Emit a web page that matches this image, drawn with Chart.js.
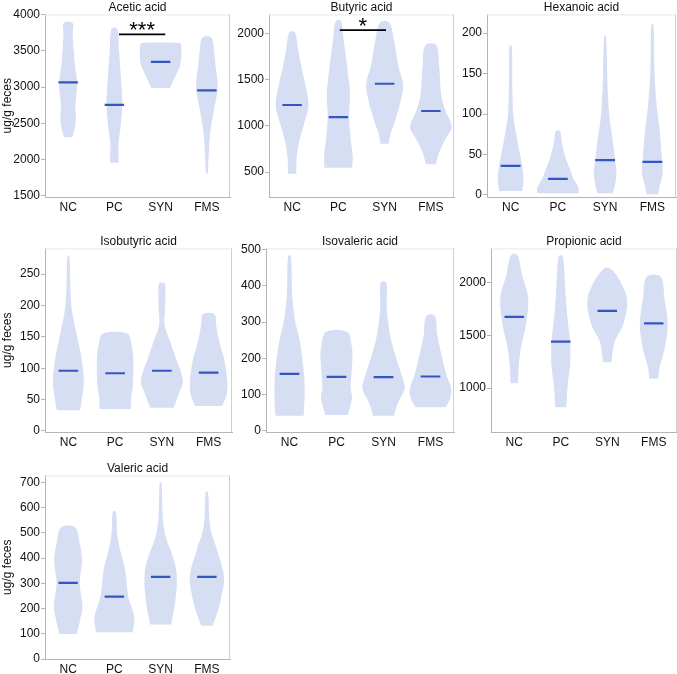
<!DOCTYPE html>
<html>
<head>
<meta charset="utf-8">
<script src="https://cdn.jsdelivr.net/npm/chart.js@4.4.1/dist/chart.umd.min.js"></script>
<style>
  html, body { margin: 0; padding: 0; background: #fff; }
  #wrap { position: relative; width: 677px; height: 674px; overflow: hidden; }
  #wrap canvas { position: absolute; }
</style>
</head>
<body>
<div id="wrap">
  <canvas id="acetic" width="231" height="215" style="left:0;top:0"></canvas>
  <canvas id="butyric" width="225" height="215" style="left:231px;top:0"></canvas>
  <canvas id="hexanoic" width="221" height="215" style="left:456px;top:0"></canvas>
  <canvas id="isobutyric" width="234" height="216" style="left:0;top:234px"></canvas>
  <canvas id="isovaleric" width="222" height="216" style="left:234px;top:234px"></canvas>
  <canvas id="propionic" width="221" height="216" style="left:456px;top:234px"></canvas>
  <canvas id="valeric" width="231" height="213" style="left:0;top:461px"></canvas>
</div>
<script>
const groups = ['NC', 'PC', 'SYN', 'FMS'];

// violin outlines: [value, half width in category units], bottom to top
const aceticNC = [[2310, 0.09], [2452, 0.15], [2590, 0.17], [2727, 0.155], [2910, 0.18], [3070, 0.195], [3277, 0.15], [3505, 0.12], [3734, 0.1], [3881, 0.097]];
const aceticPC = [[1958, 0.095], [2223, 0.09], [2452, 0.135], [2760, 0.17], [3002, 0.155], [3277, 0.125], [3505, 0.1], [3803, 0.06]];
const aceticSYN = [[2988, 0.2], [3139, 0.31], [3322, 0.43], [3528, 0.45], [3580, 0.44], [3606, 0.41]];
const aceticFMS = [[1811, 0.02], [2132, 0.045], [2360, 0.07], [2681, 0.15], [2956, 0.23], [3150, 0.22], [3277, 0.19], [3505, 0.155], [3680, 0.095]];
const aceticMedians = [3065, 2755, 3345, 2955];
const aceticTicks = [1500, 2000, 2500, 3000, 3500, 4000];

const butyricNC = [[482, 0.09], [663, 0.1], [843, 0.16], [1024, 0.26], [1223, 0.355], [1458, 0.28], [1639, 0.2], [1819, 0.13], [2011, 0.06]];
const butyricPC = [[547, 0.3], [663, 0.31], [843, 0.27], [1096, 0.23], [1349, 0.25], [1639, 0.19], [1928, 0.115], [2134, 0.055]];
const butyricSYN = [[807, 0.09], [916, 0.13], [1060, 0.23], [1277, 0.35], [1451, 0.4], [1639, 0.3], [1928, 0.2], [2116, 0.1]];
const butyricFMS = [[583, 0.11], [699, 0.17], [843, 0.3], [988, 0.45], [1158, 0.32], [1313, 0.23], [1639, 0.18], [1873, 0.115]];
const butyricMedians = [1225, 1095, 1455, 1160];
const butyricTicks = [500, 1000, 1500, 2000];

const hexanoicNC = [[5, 0.245], [18.5, 0.27], [36, 0.245], [47, 0.21], [68, 0.14], [97, 0.06], [138, 0.035], [184, 0.025]];
const hexanoicPC = [[2, 0.44], [10, 0.43], [20, 0.33], [31, 0.26], [47, 0.16], [64, 0.085], [79, 0.045]];
const hexanoicSYN = [[2, 0.16], [10, 0.2], [27, 0.24], [43, 0.21], [68, 0.16], [97, 0.09], [138, 0.05], [196, 0.02]];
const hexanoicFMS = [[1, 0.12], [10, 0.15], [27, 0.22], [47, 0.2], [76, 0.16], [118, 0.08], [159, 0.04], [210, 0.025]];
const hexanoicMedians = [36, 20, 43, 41];
const hexanoicTicks = [0, 50, 100, 150, 200];

const isobutyricNC = [[33, 0.25], [52, 0.29], [79, 0.33], [116, 0.28], [153, 0.18], [190, 0.08], [222, 0.045], [279, 0.02]];
const isobutyricPC = [[35, 0.34], [52, 0.34], [73, 0.38], [116, 0.39], [142, 0.34], [155.5, 0.26]];
const isobutyricSYN = [[37, 0.25], [63, 0.38], [81, 0.45], [116, 0.3], [142, 0.18], [169, 0.06], [195, 0.07], [220, 0.075], [235, 0.06]];
const isobutyricFMS = [[40, 0.29], [57, 0.38], [79, 0.4], [116, 0.33], [142, 0.23], [169, 0.16], [186, 0.125]];
const isobutyricMedians = [96, 92, 96, 93];
const isobutyricTicks = [0, 50, 100, 150, 200, 250];

const isovalericNC = [[42, 0.3], [90, 0.32], [154, 0.31], [246, 0.22], [310, 0.11], [383, 0.055], [482, 0.03]];
const isovalericPC = [[44, 0.24], [90, 0.33], [120, 0.3], [200, 0.34], [237, 0.32], [273, 0.22]];
const isovalericSYN = [[42, 0.22], [81, 0.32], [117, 0.45], [148, 0.4], [200, 0.27], [264, 0.14], [338, 0.07], [409, 0.06]];
const isovalericFMS = [[65, 0.32], [90, 0.42], [117, 0.44], [150, 0.35], [200, 0.25], [264, 0.145], [317, 0.09]];
const isovalericMedians = [157, 149, 148, 150];
const isovalericTicks = [0, 100, 200, 300, 400, 500];

const propionicNC = [[1047, 0.08], [1220, 0.1], [1377, 0.14], [1597, 0.25], [1849, 0.3], [2069, 0.17], [2258, 0.065]];
const propionicPC = [[818, 0.12], [1031, 0.15], [1220, 0.2], [1440, 0.2], [1660, 0.145], [1912, 0.1], [2248, 0.045]];
const propionicSYN = [[1245, 0.09], [1440, 0.16], [1597, 0.34], [1818, 0.43], [1975, 0.32], [2126, 0.08]];
const propionicFMS = [[1088, 0.1], [1189, 0.12], [1346, 0.22], [1597, 0.3], [1849, 0.23], [2053, 0.15]];
const propionicMedians = [1673, 1440, 1730, 1613];
const propionicTicks = [1000, 1500, 2000];

const valericNC = [[99, 0.19], [155, 0.26], [207, 0.31], [300, 0.25], [392, 0.3], [458, 0.25], [522, 0.15]];
const valericPC = [[106, 0.4], [168, 0.43], [247, 0.3], [353, 0.235], [432, 0.125], [498, 0.06], [584, 0.035]];
const valericSYN = [[137, 0.23], [234, 0.32], [326, 0.35], [392, 0.29], [485, 0.11], [564, 0.045], [700, 0.02]];
const valericFMS = [[132, 0.125], [180, 0.22], [234, 0.3], [326, 0.37], [432, 0.22], [524, 0.07], [663, 0.025]];
const valericMedians = [302, 247, 326, 326];
const valericTicks = [0, 100, 200, 300, 400, 500, 600, 700];

// significance: [from group, to group, label, bracket value]
const aceticSig = ['PC', 'SYN', '***', 3725];
const butyricSig = ['PC', 'SYN', '*', 2035];

const FONT = "Helvetica, 'Liberation Sans', Arial, sans-serif";
const VIOLIN = 'rgb(213, 222, 242)';
const MEDIAN = 'rgb(52, 86, 192)';
const AXIS = '#b5b5b5';

function violinPoints(profile, i) {
  const right = profile.map(([v, w]) => ({x: i + w, y: v}));
  const left = profile.slice().reverse().map(([v, w]) => ({x: i - w, y: v}));
  return right.concat(left);
}

const framePlugin = {
  id: 'frame',
  beforeDatasetsDraw(chart) {
    const {ctx, chartArea: a} = chart;
    ctx.save();
    ctx.lineWidth = 1;
    ctx.strokeStyle = '#e8e8e8';
    ctx.beginPath();
    ctx.moveTo(a.left, a.top + 0.5);
    ctx.lineTo(a.right, a.top + 0.5);
    ctx.stroke();
    ctx.strokeStyle = '#cfcfcf';
    ctx.beginPath();
    ctx.moveTo(a.right - 0.5, a.top);
    ctx.lineTo(a.right - 0.5, a.bottom);
    ctx.stroke();
    ctx.restore();
  }
};

const starsPlugin = {
  id: 'stars',
  afterDatasetsDraw(chart, args, opts) {
    if (!opts.sig) return;
    const [g1, g2, label, v] = opts.sig;
    const x = chart.scales.x, y = chart.scales.y;
    const mid = (groups.indexOf(g1) + groups.indexOf(g2)) / 2 + opts.shift;
    const ctx = chart.ctx;
    ctx.save();
    ctx.fillStyle = '#000';
    ctx.font = '22px ' + FONT;
    ctx.textAlign = 'center';
    ctx.textBaseline = 'alphabetic';
    ctx.fillText(label, x.getPixelForValue(mid), y.getPixelForValue(v) + 3);
    ctx.restore();
  }
};

function makePanel(id, title, profiles, medians, ticks, min, max, p) {
  const datasets = [];
  profiles.forEach((prof, i) => {
    datasets.push({
      data: violinPoints(prof, i),
      backgroundColor: VIOLIN,
      borderWidth: 0,
      pointRadius: 0,
      fill: 'shape',
      tension: 0.35,
      order: 3
    });
  });
  medians.forEach((m, i) => {
    datasets.push({
      data: [{x: i - 0.21, y: m}, {x: i + 0.21, y: m}],
      borderColor: MEDIAN,
      borderWidth: 2.2,
      pointRadius: 0,
      fill: false,
      order: 2
    });
  });
  if (p.sig) {
    const a = groups.indexOf(p.sig[0]) + p.shift, b = groups.indexOf(p.sig[1]) + p.shift;
    datasets.push({
      data: [{x: a, y: p.sig[3]}, {x: b, y: p.sig[3]}],
      borderColor: '#000',
      borderWidth: 1.6,
      pointRadius: 0,
      fill: false,
      order: 1
    });
  }
  new Chart(document.getElementById(id), {
    type: 'line',
    data: {datasets},
    options: {
      responsive: false,
      animation: false,
      devicePixelRatio: 1,
      layout: {padding: {top: 0, left: 0, bottom: 0, right: p.padR}},
      plugins: {
        legend: {display: false},
        tooltip: {enabled: false},
        title: {display: true, text: title, fullSize: false, padding: 0, color: '#111', font: {family: FONT, size: 12, weight: 'normal'}},
        stars: {sig: p.sig, shift: p.shift || 0}
      },
      scales: {
        x: {
          type: 'linear', min: -0.5, max: 3.5,
          afterBuildTicks: s => { s.ticks = groups.map((g, i) => ({value: i})); },
          ticks: {callback: v => groups[v], color: '#111', padding: 3, maxRotation: 0, autoSkip: false, font: {family: FONT, size: 12}},
          grid: {display: false, drawTicks: false},
          border: {color: AXIS, width: 1},
          afterFit: s => { s.height = p.xh; }
        },
        y: {
          type: 'linear', min, max,
          afterBuildTicks: s => { s.ticks = ticks.map(v => ({value: v})); },
          ticks: {callback: v => String(v), color: '#111', padding: 1, font: {family: FONT, size: 12}},
          grid: {drawOnChartArea: false, tickLength: 4, color: AXIS},
          border: {color: AXIS, width: 1},
          title: {display: !!p.ytitle, text: 'ug/g feces', color: '#111', padding: 0, font: {family: FONT, size: 12}},
          afterFit: s => { s.width = p.yw; }
        }
      }
    },
    plugins: [framePlugin, starsPlugin]
  });
}

makePanel('acetic', 'Acetic acid', [aceticNC, aceticPC, aceticSYN, aceticFMS], aceticMedians, aceticTicks, 1486, 4000,
  {yw: 45, padR: 1, xh: 18, ytitle: true, sig: aceticSig, shift: 0.1});
makePanel('butyric', 'Butyric acid', [butyricNC, butyricPC, butyricSYN, butyricFMS], butyricMedians, butyricTicks, 230, 2205,
  {yw: 38, padR: 2, xh: 18, sig: butyricSig, shift: 0.03});
makePanel('hexanoic', 'Hexanoic acid', [hexanoicNC, hexanoicPC, hexanoicSYN, hexanoicFMS], hexanoicMedians, hexanoicTicks, -2.5, 223,
  {yw: 31, padR: 1, xh: 18});
makePanel('isobutyric', 'Isobutyric acid', [isobutyricNC, isobutyricPC, isobutyricSYN, isobutyricFMS], isobutyricMedians, isobutyricTicks, -1.6, 291,
  {yw: 45, padR: 2, xh: 18, ytitle: true});
makePanel('isovaleric', 'Isovaleric acid', [isovalericNC, isovalericPC, isovalericSYN, isovalericFMS], isovalericMedians, isovalericTicks, -3, 503,
  {yw: 32, padR: 2, xh: 18});
makePanel('propionic', 'Propionic acid', [propionicNC, propionicPC, propionicSYN, propionicFMS], propionicMedians, propionicTicks, 585, 2321,
  {yw: 35, padR: 0, xh: 18});
makePanel('valeric', 'Valeric acid', [valericNC, valericPC, valericSYN, valericFMS], valericMedians, valericTicks, 0, 728,
  {yw: 45, padR: 1, xh: 15, ytitle: true});
</script>
</body>
</html>
